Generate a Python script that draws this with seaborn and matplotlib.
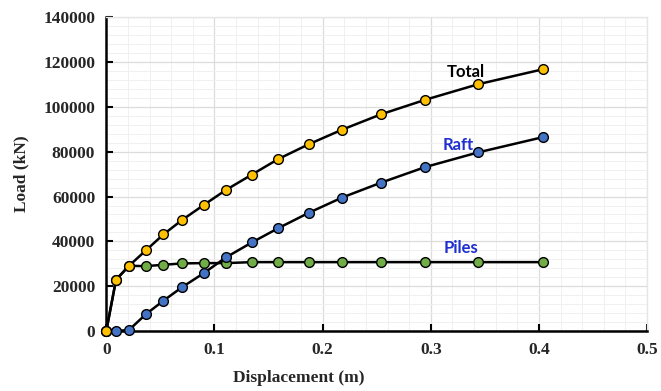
import matplotlib
matplotlib.use("Agg")
import matplotlib.pyplot as plt
from matplotlib.ticker import MultipleLocator
import seaborn as sns
import pandas as pd

# Data
disp = [0.0, 0.009, 0.021, 0.0365, 0.0528, 0.0698, 0.0902, 0.1106, 0.1346,
        0.159, 0.187, 0.218, 0.2537, 0.295, 0.344, 0.404]
total = [0, 22850, 29080, 35940, 43070, 49440, 56250, 62930, 69790,
         76740, 83290, 89840, 96650, 103200, 110150, 116830]
raft = [0, 0, 450, 7440, 13500, 19460, 25830, 32830, 39510,
        45880, 52690, 59550, 66140, 73180, 79730, 86540]
piles = [0, 22850, 29080, 28950, 29530, 30150, 30290, 30290, 30730,
         30730, 30730, 30730, 30730, 30730, 30730, 30730]

series_names = ["Piles", "Raft", "Total"]
series_values = [piles, raft, total]
marker_colors = ["#70AD47", "#4472C4", "#FFC000"]

sns.set_theme(style="white")
plt.rcParams["font.family"] = ["Liberation Serif", "DejaVu Serif"]

fig = plt.figure(figsize=(6.61, 3.91), dpi=100)
ax = fig.add_axes([0.1608, 0.1535, 0.979 - 0.1608, 0.9558 - 0.1535])

for name, vals, mc in zip(series_names, series_values, marker_colors):
    df = pd.DataFrame({"x": disp, "y": vals})
    sns.lineplot(data=df, x="x", y="y", ax=ax, sort=False, color="black",
                 linewidth=1.8, marker="o", markersize=7,
                 markerfacecolor=mc, markeredgecolor="black",
                 markeredgewidth=1.0, zorder=3, clip_on=False)

ax.set_xlim(0, 0.5)
ax.set_ylim(0, 140000)
ax.xaxis.set_major_locator(MultipleLocator(0.1))
ax.xaxis.set_minor_locator(MultipleLocator(0.02))
ax.yaxis.set_major_locator(MultipleLocator(20000))
ax.yaxis.set_minor_locator(MultipleLocator(4000))
ax.set_xticks([0, 0.1, 0.2, 0.3, 0.4, 0.5])
ax.set_xticklabels(["0", "0.1", "0.2", "0.3", "0.4", "0.5"])

ax.grid(which="major", color="#dcdcdc", linewidth=0.9)
ax.grid(which="minor", color="#f0f0f0", linewidth=0.7)
ax.set_axisbelow(True)

for s in ["top", "right"]:
    ax.spines[s].set_color("#e6e6e6")
    ax.spines[s].set_linewidth(1.0)
for s in ["left", "bottom"]:
    ax.spines[s].set_color("black")
    ax.spines[s].set_linewidth(1.8)

ax.tick_params(axis="both", which="major", direction="in", length=5, width=1.5,
               color="black", labelsize=12.5, pad=8)
ax.tick_params(axis="both", which="minor", length=0)
ax.tick_params(axis="x", bottom=True)
ax.tick_params(axis="y", left=True)
for lbl in ax.get_xticklabels() + ax.get_yticklabels():
    lbl.set_fontweight("bold")

ax.set_xlabel("Displacement (m)", fontsize=12.5, fontweight="bold", labelpad=8)
ax.xaxis.set_label_coords(0.355, -0.125)
ax.set_ylabel("Load (kN)", fontsize=12.5, fontweight="bold", labelpad=10)

lab_font = ["Lato", "DejaVu Sans"]
ax.text(0.332, 115700, "Total", color="black", fontsize=12, fontweight="bold",
        family=lab_font, ha="center", va="center")
ax.text(0.325, 82840, "Raft", color="#1f2fd0", fontsize=12, fontweight="bold",
        family=lab_font, ha="center", va="center")
ax.text(0.328, 37000, "Piles", color="#1f2fd0", fontsize=12, fontweight="bold",
        family=lab_font, ha="center", va="center")

fig.savefig("out.png", dpi=100)
